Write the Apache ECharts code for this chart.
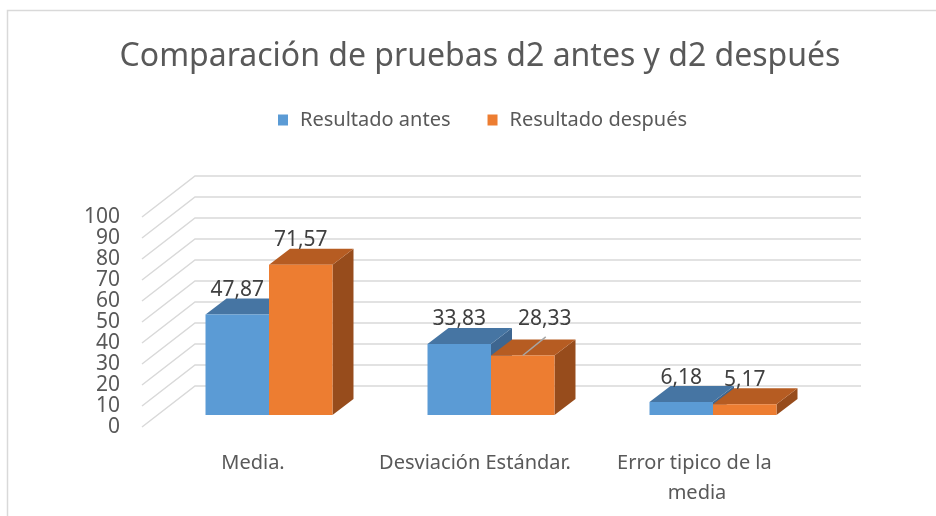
<!DOCTYPE html>
<html>
<head>
<meta charset="utf-8">
<script src="https://cdn.jsdelivr.net/npm/echarts@6/dist/echarts.min.js"></script>
<style>
	html, body { margin: 0; padding: 0; background: #fff; }
	#chart { width: 936px; height: 516px; }
</style>
</head>
<body>
<div id="chart"></div>
<script>
// datos
const categories = ["Media.", "Desviación Estándar.", "Error tipico de la media"];
const seriesNames = ["Resultado antes", "Resultado después"];
const antes = [47.87, 33.83, 6.18];
const despues = [71.57, 28.33, 5.17];
const valueTicks = [0, 10, 20, 30, 40, 50, 60, 70, 80, 90, 100];

// proyección "3D" al estilo Excel (px)
const WALL = [37, -29]; // pared del fondo respecto al plano frontal de las barras
const FRONT = [-16, 12]; // borde delantero del suelo
const DEPTH = [21, -16]; // profundidad de cada barra
const BAR_RATIO = 0.286;
// etiqueta que Excel desplazó con línea guía
const movedLabel = { series: 1, index: 1 };

const faces = [
	{ front: "#5B9BD5", top: "#4675A3", side: "#3E6690" },
	{ front: "#ED7D31", top: "#B65C22", side: "#974C1C" }
];
const fmt = v => v.toFixed(2).replace(".", ",");

function gridItem(params, api) {
	const y = api.coord([0, api.value(1)])[1];
	const left = params.coordSys.x;
	const right = left + params.coordSys.width;
	return {
		type: "polyline",
		shape: {
			points: [
				[left + FRONT[0], y + FRONT[1]],
				[left + WALL[0], y + WALL[1]],
				[right + WALL[0], y + WALL[1]]
			]
		},
		style: { stroke: "#D9D9D9", lineWidth: 1.5, fill: null }
	};
}

function barItem(s) {
	return function (params, api) {
		const idx = api.value(0);
		const v = api.value(1);
		const c = api.coord([idx, v]);
		const base = api.coord([idx, 0])[1];
		const w = api.size([1, 0])[0] * BAR_RATIO;
		const x0 = s === 0 ? c[0] - w : c[0];
		const x1 = x0 + w;
		const yt = c[1];
		const dx = DEPTH[0], dy = DEPTH[1];
		const col = faces[s];
		const children = [
			{ type: "polygon", shape: { points: [[x1, yt], [x1 + dx, yt + dy], [x1 + dx, base + dy], [x1, base]] }, style: { fill: col.side } },
			{ type: "polygon", shape: { points: [[x0, yt], [x1, yt], [x1 + dx, yt + dy], [x0 + dx, yt + dy]] }, style: { fill: col.top } },
			{ type: "rect", shape: { x: x0, y: yt, width: w, height: base - yt }, style: { fill: col.front } }
		];
		const cx = (x0 + x1) / 2;
		let lx = cx, ly = yt + dy + 2;
		if (s === movedLabel.series && idx === movedLabel.index) {
			const other = api.coord([idx, antes[idx]])[1];
			lx = cx + dx + 1;
			ly = other + dy + 2;
			children.push({
				type: "line",
				shape: { x1: cx, y1: yt, x2: lx + 1, y2: ly + 7 },
				style: { stroke: "#A6A6A6", lineWidth: 1.5 }
			});
		}
		children.push({
			type: "text",
			x: lx,
			y: ly,
			style: { text: fmt(v), align: "center", verticalAlign: "bottom", font: '21px "Noto Sans"', fill: "#404040" }
		});
		return { type: "group", children: children };
	};
}

const myChart = echarts.init(document.getElementById("chart"));
const option = {
	animation: false,
	graphic: [
		{
			type: "rect",
			silent: true,
			shape: { x: 7.5, y: 10.5, width: 1000, height: 1000 },
			style: { fill: null, stroke: "#D9D9D9", lineWidth: 1.5 }
		}
	],
	title: {
		text: "Comparación de pruebas d2 antes y d2 después",
		left: 475,
		top: 36,
		textAlign: "center",
		textStyle: { fontFamily: "Noto Sans", fontSize: 32, fontWeight: "normal", color: "#595959" }
	},
	legend: {
		left: 273,
		top: 105,
		icon: "rect",
		itemWidth: 10,
		itemHeight: 11,
		itemGap: 37,
		data: seriesNames,
		textStyle: { fontFamily: "Noto Sans", fontSize: 20, color: "#595959", padding: [0, 0, 0, 7] }
	},
	grid: [
		{ left: 158, right: 112, top: 205, bottom: 101 },
		{ left: 142, right: 128, top: 217, bottom: 89 }
	],
	xAxis: [
		{ type: "category", gridIndex: 0, data: categories, show: false },
		{
			type: "category",
			gridIndex: 1,
			data: categories,
			axisLine: { show: false },
			axisTick: { show: false },
			axisLabel: {
				interval: 0,
				margin: 21,
				width: 212,
				overflow: "break",
				lineHeight: 30,
				fontFamily: "Noto Sans",
				fontSize: 20,
				color: "#595959"
			}
		}
	],
	yAxis: [
		{ type: "value", gridIndex: 0, min: 0, max: 100, interval: 10, show: false },
		{
			type: "value",
			gridIndex: 1,
			min: 0,
			max: 100,
			interval: 10,
			axisLine: { show: false },
			axisTick: { show: false },
			splitLine: { show: false },
			axisLabel: { margin: 22, fontFamily: "Noto Sans", fontSize: 21, color: "#595959" }
		}
	],
	series: [
		{
			type: "custom",
			xAxisIndex: 0,
			yAxisIndex: 0,
			silent: true,
			z: 1,
			renderItem: gridItem,
			data: valueTicks.map(t => [0, t])
		},
		{
			name: seriesNames[0],
			type: "custom",
			xAxisIndex: 0,
			yAxisIndex: 0,
			z: 2,
			itemStyle: { color: faces[0].front },
			renderItem: barItem(0),
			data: antes.map((v, i) => [i, v])
		},
		{
			name: seriesNames[1],
			type: "custom",
			xAxisIndex: 0,
			yAxisIndex: 0,
			z: 3,
			itemStyle: { color: faces[1].front },
			renderItem: barItem(1),
			data: despues.map((v, i) => [i, v])
		}
	]
};
myChart.setOption(option);
</script>
</body>
</html>
